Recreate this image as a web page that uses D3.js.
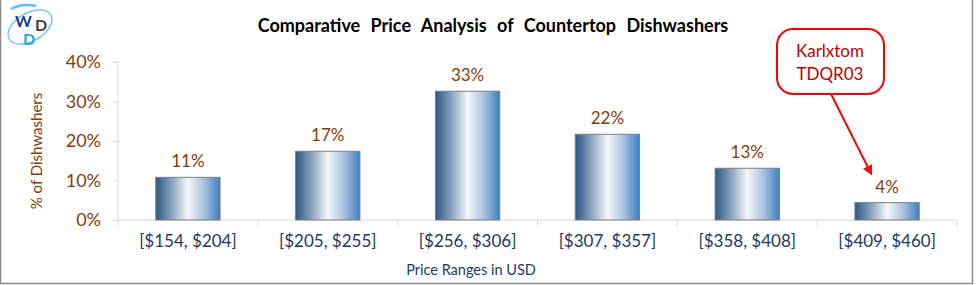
<!DOCTYPE html>
<html>
<head>
<meta charset="utf-8">
<script src="https://cdn.jsdelivr.net/npm/d3@7"></script>
<style>
body { margin: 0; background: #fff; }
svg text { font-family: Lato, "Open Sans", sans-serif; }
</style>
</head>
<body>
<svg width="976" height="285"></svg>
<script>
var categories = ["[$154, $204]", "[$205, $255]", "[$256, $306]", "[$307, $357]", "[$358, $408]", "[$409, $460]"];
var shares = [0.108, 0.174, 0.326, 0.217, 0.131, 0.044];
var shareLabels = ["11%", "17%", "33%", "22%", "13%", "4%"];
var yTicks = [0, 0.1, 0.2, 0.3, 0.4];
var calloutLines = ["Karlxtom", "TDQR03"];

var brown = "#843c0c", navy = "#1f3864";
var svg = d3.select("svg");

// frame
svg.append("path").attr("d", "M0.5,0 V283.5 H972.5 V0")
  .attr("fill", "none").attr("stroke", "#8c8c8c").attr("stroke-width", 1.5);

var plotL = 118, plotR = 957, plotT = 62, plotB = 220;
var x = d3.scaleBand().domain(categories).range([plotL, plotR]).paddingInner(0.54).paddingOuter(0.27);
var y = d3.scaleLinear().domain([0, 0.4]).range([plotB, plotT]);

var defs = svg.append("defs");
var grad = defs.append("linearGradient").attr("id", "barGrad");
grad.append("stop").attr("offset", "0%").attr("stop-color", "#2b5785");
grad.append("stop").attr("offset", "25%").attr("stop-color", "#8aa3bd");
grad.append("stop").attr("offset", "50%").attr("stop-color", "#f4f7fa");
grad.append("stop").attr("offset", "75%").attr("stop-color", "#a9c4e0");
grad.append("stop").attr("offset", "100%").attr("stop-color", "#3f7fc0");

var mk = defs.append("marker").attr("id", "arrow").attr("viewBox", "0 0 10 10")
  .attr("refX", 8).attr("refY", 5).attr("markerWidth", 5).attr("markerHeight", 5)
  .attr("orient", "auto");
mk.append("path").attr("d", "M0,0 L10,5 L0,10 z").attr("fill", "#ff0000");

// title
svg.append("text").attr("x", 493).attr("y", 32).attr("text-anchor", "middle")
  .attr("font-size", 18).attr("font-weight", "bold").attr("fill", "#000")
  .attr("word-spacing", 6).text("Comparative Price Analysis of Countertop Dishwashers");

// y axis
var yAxis = svg.append("g").attr("transform", "translate(" + plotL + ",0)")
  .call(d3.axisLeft(y).tickValues(yTicks).tickFormat(d3.format(".0%")).tickSize(5).tickPadding(12));
yAxis.select(".domain").attr("stroke", "#d9d9d9").attr("d", "M-5," + plotT + "H0V" + plotB);
yAxis.selectAll(".tick line").attr("stroke", "#d9d9d9");
yAxis.selectAll(".tick text").attr("fill", brown).attr("font-size", 18)
  .attr("font-family", "Lato, sans-serif");

// x axis
var xAxis = svg.append("g").attr("transform", "translate(0," + plotB + ")")
  .call(d3.axisBottom(x).tickSize(0).tickPadding(15));
xAxis.select(".domain").attr("stroke", "#d9d9d9").attr("d", "M" + plotL + ",0H" + plotR);
xAxis.selectAll(".tick text").attr("fill", navy).attr("font-size", 17)
  .attr("font-family", "Lato, sans-serif");
xAxis.selectAll(".sep").data(d3.range(categories.length + 1)).enter().append("line")
  .attr("x1", function(i) { return plotL + i * (plotR - plotL) / categories.length; })
  .attr("x2", function(i) { return plotL + i * (plotR - plotL) / categories.length; })
  .attr("y1", 0).attr("y2", 6).attr("stroke", "#d9d9d9");

// bars
svg.selectAll("rect.bar").data(shares).enter().append("rect").attr("class", "bar")
  .attr("x", function(d, i) { return x(categories[i]); })
  .attr("y", function(d) { return y(d); })
  .attr("width", x.bandwidth())
  .attr("height", function(d) { return plotB - y(d); })
  .attr("fill", "url(#barGrad)").attr("stroke", "#7f7f7f").attr("stroke-width", 1);

svg.selectAll("text.val").data(shares).enter().append("text").attr("class", "val")
  .attr("x", function(d, i) { return x(categories[i]) + x.bandwidth() / 2; })
  .attr("y", function(d) { return y(d) - 10; })
  .attr("text-anchor", "middle").attr("font-size", 17).attr("fill", brown)
  .text(function(d, i) { return shareLabels[i]; });

// axis titles
svg.append("text").attr("transform", "translate(42,151) rotate(-90)")
  .attr("text-anchor", "middle").attr("font-size", 15).attr("fill", brown).text("% of Dishwashers");
svg.append("text").attr("x", 471).attr("y", 275).attr("text-anchor", "middle")
  .attr("font-size", 14.5).attr("fill", navy).text("Price Ranges in USD");

// callout
var last = categories.length - 1;
svg.append("line").attr("x1", 831).attr("y1", 94)
  .attr("x2", x(categories[last]) + x.bandwidth() / 2 - 16).attr("y2", y(shares[last]) - 29)
  .attr("stroke", "#ff0000").attr("stroke-width", 2).attr("marker-end", "url(#arrow)");
svg.append("rect").attr("x", 777).attr("y", 29).attr("width", 107).attr("height", 65)
  .attr("rx", 16).attr("fill", "#fff").attr("stroke", "#ff0000").attr("stroke-width", 2);
svg.selectAll("text.call").data(calloutLines).enter().append("text").attr("class", "call")
  .attr("x", 830).attr("y", function(d, i) { return 57 + i * 23; })
  .attr("text-anchor", "middle").attr("font-size", 17).attr("fill", "#c00000").text(function(d) { return d; });

// logo
var logo = svg.append("g");
logo.append("ellipse").attr("cx", 30).attr("cy", 27).attr("rx", 24).attr("ry", 14)
  .attr("transform", "rotate(-30,30,27)").attr("fill", "none").attr("stroke", "#5bc3f0").attr("stroke-width", 1.2);
logo.append("path").attr("d", "M11,9 Q22,3 36,6").attr("fill", "none").attr("stroke", "#5bc3f0").attr("stroke-width", 2.5);
logo.append("text").attr("x", 15).attr("y", 27).attr("font-size", 16).attr("font-weight", "bold")
  .attr("fill", "#1a3f93").attr("font-family", "'DejaVu Sans', sans-serif").text("W");
logo.append("text").attr("x", 35).attr("y", 31).attr("font-size", 16).attr("font-weight", "bold")
  .attr("fill", "#404040").attr("font-family", "'DejaVu Sans', sans-serif").text("D");
logo.append("text").attr("x", 23).attr("y", 45).attr("font-size", 16).attr("font-weight", "bold")
  .attr("fill", "#2aa7df").attr("font-family", "'DejaVu Sans', sans-serif").text("D");
</script>
</body>
</html>
